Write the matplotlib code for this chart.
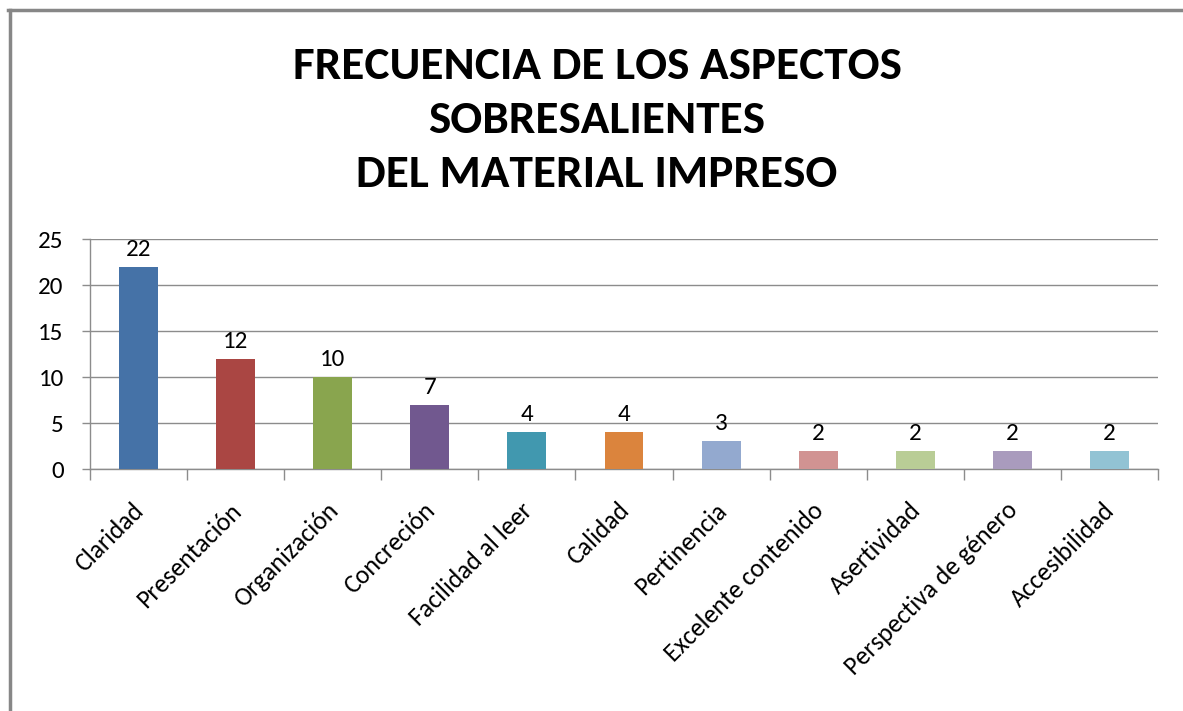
import matplotlib
matplotlib.use("Agg")
import matplotlib.pyplot as plt
from matplotlib.lines import Line2D
import numpy as np

categories = ["Claridad", "Presentación", "Organización", "Concreción", "Facilidad al leer",
              "Calidad", "Pertinencia", "Excelente contenido", "Asertividad",
              "Perspectiva de género", "Accesibilidad"]
values = [22, 12, 10, 7, 4, 4, 3, 2, 2, 2, 2]
colors = ["#4572A7", "#AA4643", "#89A54E", "#71588F", "#4198AF", "#DB843D",
          "#93A9CF", "#D19392", "#B9CD96", "#A99BBD", "#92C3D4"]
title = "FRECUENCIA DE LOS ASPECTOS\nSOBRESALIENTES\nDEL MATERIAL IMPRESO"

plt.rcParams['font.family'] = ['Carlito', 'Lato', 'DejaVu Sans']

W, H = 1183, 711
fig = plt.figure(figsize=(W/100, H/100), dpi=100)
fig.patch.set_facecolor("white")

# chart border (top and left visible)
fig.add_artist(Line2D([9.5/W, 9.5/W], [0, 1 - 9.5/H], transform=fig.transFigure,
                      color="#878787", lw=2.5))
fig.add_artist(Line2D([8/W, 1], [1 - 9.5/H, 1 - 9.5/H], transform=fig.transFigure,
                      color="#878787", lw=2.5))

ax = fig.add_axes([90/W, 1 - 469/H, (1158-90)/W, (469-239)/H])
x = np.arange(len(categories))
ax.bar(x, values, width=0.4, color=colors, zorder=3)
ax.set_xlim(-0.5, len(categories) - 0.5)
ax.set_ylim(0, 25)
ax.set_yticks([0, 5, 10, 15, 20, 25])
ax.yaxis.grid(True, color="#8c8c8c", lw=1, zorder=0)
ax.set_axisbelow(True)

for s in ["top", "right"]:
    ax.spines[s].set_visible(False)
for s in ["left", "bottom"]:
    ax.spines[s].set_color("#8c8c8c")
    ax.spines[s].set_linewidth(1)

ax.set_xticks(np.arange(-0.5, len(categories), 1.0))
ax.set_xticklabels([])
ax.tick_params(axis="x", length=8, width=1, color="#8c8c8c", direction="out")
ax.tick_params(axis="y", length=6, width=1, color="#8c8c8c", direction="out",
               labelsize=18, pad=13)

for i, lab in enumerate(categories):
    ax.annotate(lab, xy=(i, 0), xycoords=("data", "axes fraction"),
                xytext=(1, -27), textcoords="offset points",
                rotation=45, ha="right", va="center", rotation_mode="anchor",
                fontsize=18.5)

for i, v in enumerate(values):
    ax.annotate(str(v), xy=(i, v), xytext=(0, 5), textcoords="offset points",
                ha="center", va="bottom", fontsize=18)

fig.text(597/W, 1 - 120/H, title, ha="center", va="center", fontsize=34,
         fontweight="bold", linespacing=1.42)

fig.savefig("out.png", dpi=100, facecolor="white")
